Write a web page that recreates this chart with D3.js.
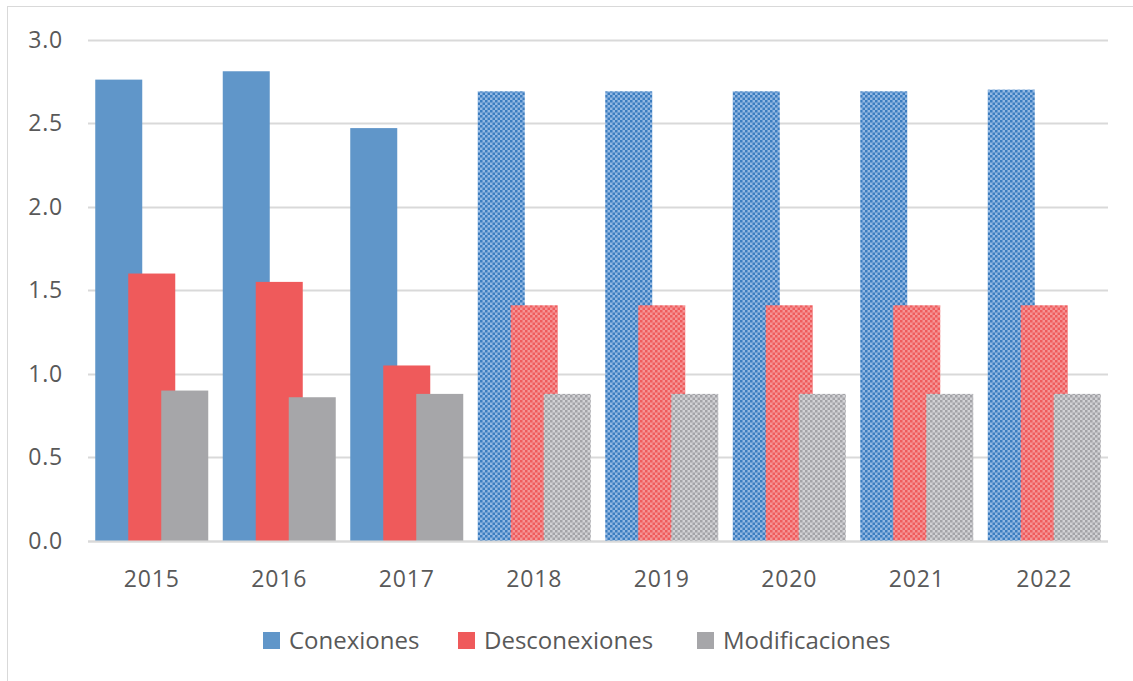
<!DOCTYPE html>
<html>
<head>
<meta charset="utf-8">
<script src="https://cdn.jsdelivr.net/npm/d3@7"></script>
<style>
  body { margin: 0; background: #fff; }
  svg { display: block; }
  text { font-family: "Open Sans", "Liberation Sans", sans-serif; fill: #595959; }
</style>
</head>
<body>
<svg id="chart" width="1133" height="681"></svg>
<script>
// Years and series values (2018 onward are projections, drawn with a checkered fill)
const years = ["2015", "2016", "2017", "2018", "2019", "2020", "2021", "2022"];
const conexiones     = [2.76, 2.81, 2.47, 2.69, 2.69, 2.69, 2.69, 2.70];
const desconexiones  = [1.60, 1.55, 1.05, 1.41, 1.41, 1.41, 1.41, 1.41];
const modificaciones = [0.90, 0.86, 0.88, 0.88, 0.88, 0.88, 0.88, 0.88];
const projected      = [false, false, false, true, true, true, true, true];
const yTicks = [0, 0.5, 1.0, 1.5, 2.0, 2.5, 3.0];

const seriesNames = ["Conexiones", "Desconexiones", "Modificaciones"];
const seriesValues = [conexiones, desconexiones, modificaciones];
const solid = ["#6096c9", "#ef5a5b", "#a6a6a9"];
const checkDark = ["#3b7dc0", "#ef5b5c", "#a3a3a7"];
const checkLight = ["#93b8e2", "#f59596", "#d2d2d5"];

const svg = d3.select("#chart");

// chart frame
svg.append("rect")
  .attr("x", 7.5).attr("y", 6.5)
  .attr("width", 1140).attr("height", 700)
  .attr("fill", "none").attr("stroke", "#d9d9d9");

// checkerboard patterns for projected bars
const defs = svg.append("defs");
seriesNames.forEach((n, i) => {
  const p = defs.append("pattern")
    .attr("id", "chk" + i)
    .attr("patternUnits", "userSpaceOnUse")
    .attr("width", 5).attr("height", 5);
  p.append("rect").attr("width", 5).attr("height", 5).attr("fill", checkLight[i]);
  p.append("rect").attr("width", 2.5).attr("height", 2.5).attr("fill", checkDark[i]);
  p.append("rect").attr("x", 2.5).attr("y", 2.5).attr("width", 2.5).attr("height", 2.5).attr("fill", checkDark[i]);
});

const x = d3.scaleBand().domain(years).range([88, 1108]).paddingInner(0).paddingOuter(0);
const y = d3.scaleLinear().domain([0, 3]).range([541, 39.5]);

// gridlines
svg.append("g")
  .selectAll("line")
  .data(yTicks)
  .join("line")
  .attr("x1", 88).attr("x2", 1108)
  .attr("y1", d => Math.round(y(d)) + 0.5)
  .attr("y2", d => Math.round(y(d)) + 0.5)
  .attr("stroke", "#d9d9d9").attr("stroke-width", 2);

// y tick labels
svg.append("g")
  .selectAll("text")
  .data(yTicks)
  .join("text")
  .attr("x", 63)
  .attr("y", d => y(d))
  .attr("dy", "0.35em")
  .attr("text-anchor", "end")
  .style("font-size", "23px")
  .style("letter-spacing", "0.8px")
  .text(d => d3.format(".1f")(d));

// bars: width 47, step 33 within each group (overlapping)
const barW = 47, barStep = 33;
const groupW = barW + 2 * barStep;
seriesValues.forEach((vals, si) => {
  svg.append("g")
    .selectAll("rect")
    .data(years.map((yr, i) => ({ yr, v: vals[i], proj: projected[i] })))
    .join("rect")
    .attr("x", d => x(d.yr) + x.bandwidth() / 2 - groupW / 2 + si * barStep)
    .attr("y", d => y(d.v))
    .attr("width", barW)
    .attr("height", d => y(0) - y(d.v))
    .attr("fill", d => d.proj ? `url(#chk${si})` : solid[si]);
});

// x axis line
svg.append("line")
  .attr("x1", 88).attr("x2", 1108)
  .attr("y1", 541.5).attr("y2", 541.5)
  .attr("stroke", "#d9d9d9").attr("stroke-width", 2);

// x labels
svg.append("g")
  .selectAll("text")
  .data(years)
  .join("text")
  .attr("x", d => x(d) + x.bandwidth() / 2)
  .attr("y", 587)
  .attr("text-anchor", "middle")
  .style("font-size", "23px")
  .style("letter-spacing", "0.8px")
  .text(d => d);

// legend
const legendX = [263, 458, 697];
const lg = svg.append("g");
seriesNames.forEach((n, i) => {
  lg.append("rect")
    .attr("x", legendX[i]).attr("y", 632)
    .attr("width", 17).attr("height", 17)
    .attr("fill", solid[i]);
  lg.append("text")
    .attr("x", legendX[i] + 26).attr("y", 649)
    .style("font-size", "24px")
    .text(n);
});
</script>
</body>
</html>
